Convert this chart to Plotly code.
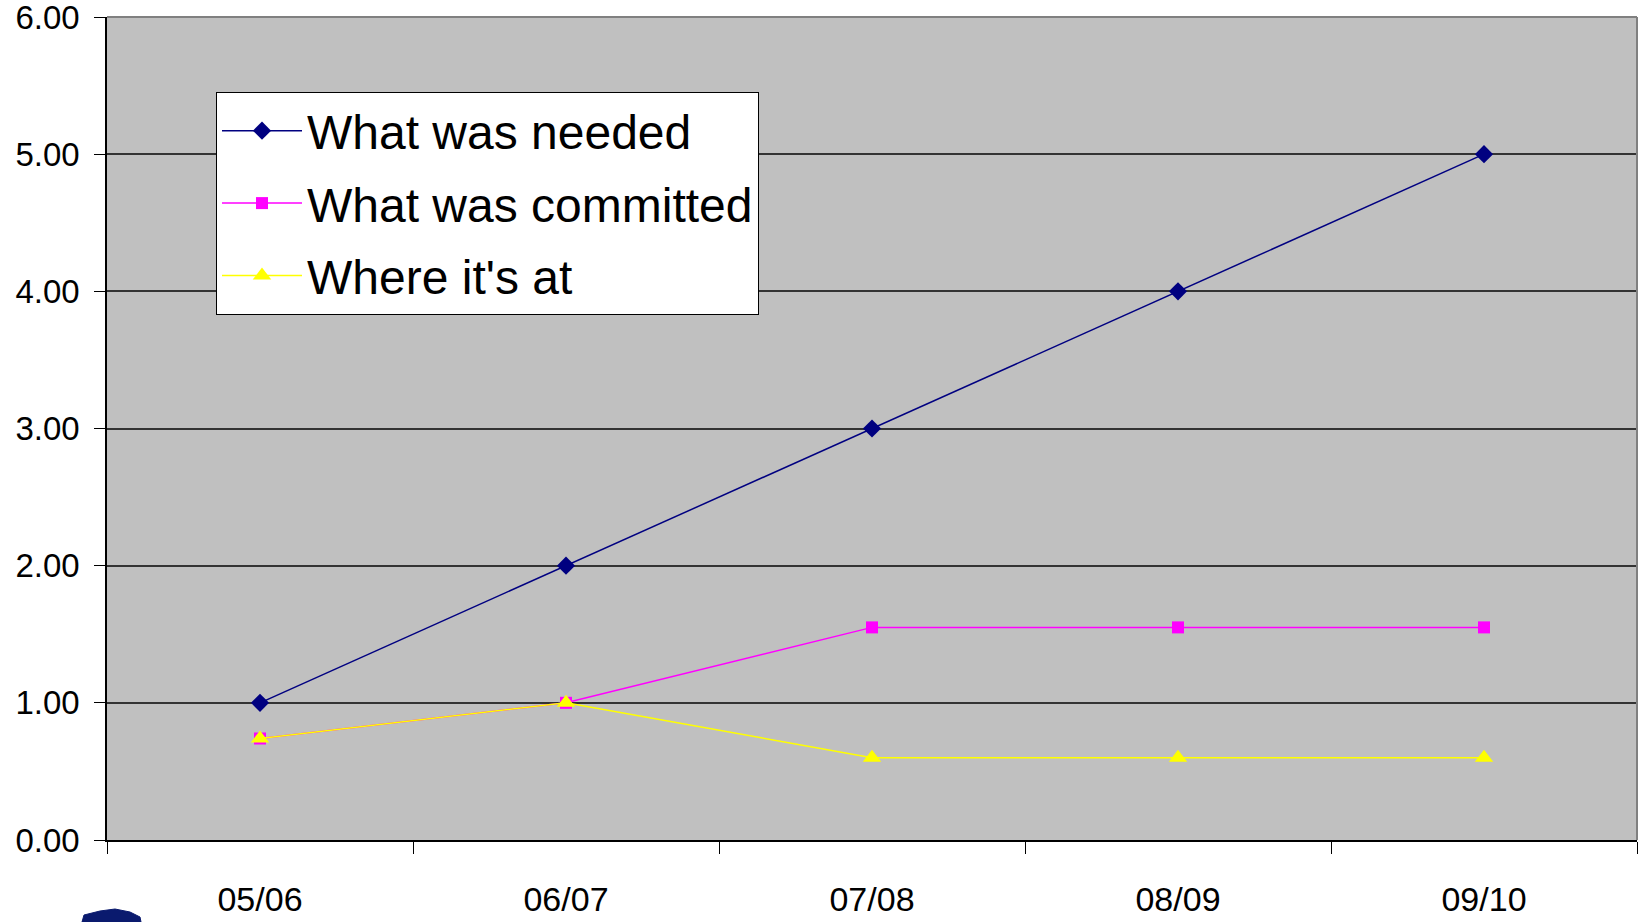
import plotly.graph_objects as go

categories = ["05/06", "06/07", "07/08", "08/09", "09/10"]
needed = [1.0, 2.0, 3.0, 4.0, 5.0]
committed = [0.74, 1.0, 1.55, 1.55, 1.55]
where_at = [0.74, 1.0, 0.6, 0.6, 0.6]
y_ticks = [0, 1, 2, 3, 4, 5, 6]

FONT = "Liberation Sans, Arial, sans-serif"
W, H = 1643, 922
L, R, T, B = 107, 6, 17, 82
PW, PH = W - L - R, H - T - B

fig = go.Figure()
fig.add_trace(go.Scatter(
    x=categories, y=needed, name="What was needed", mode="lines+markers",
    legendgroup="a",
    line=dict(color="#000080", width=1.5),
    marker=dict(symbol="diamond", size=14, color="#000080")))
fig.add_trace(go.Scatter(
    x=categories, y=committed, name="What was committed", mode="lines+markers",
    legendgroup="b",
    line=dict(color="#FF00FF", width=1.5),
    marker=dict(symbol="square", size=12, color="#FF00FF")))
fig.add_trace(go.Scatter(
    x=categories, y=where_at, name="Where it's at", mode="lines+markers",
    legendgroup="c",
    line=dict(color="#FFFF00", width=1.5),
    marker=dict(symbol="triangle-up", size=16, color="#FFFF00")))

def px2paper(px, py):
    return (px - L) / PW, (H - B - py) / PH

# small logo partially visible at bottom-left
logo_pts = [(82, 922), (84, 915), (100, 911), (115, 909), (130, 912), (140, 917), (141, 922)]
path = "M " + " L ".join(f"{px2paper(a, b)[0]},{px2paper(a, b)[1]}" for a, b in logo_pts) + " Z"

fig.update_layout(
    width=W, height=H,
    margin=dict(l=L, r=R, t=T, b=B, pad=0, autoexpand=False),
    paper_bgcolor="white",
    plot_bgcolor="#C0C0C0",
    font=dict(family=FONT, color="black"),
    showlegend=True,
    legend=dict(
        x=(216 - L) / PW, y=(H - B - 92) / PH, xanchor="left", yanchor="top",
        bgcolor="white", bordercolor="black", borderwidth=1,
        font=dict(size=48, family=FONT, color="black"),
        itemwidth=80, tracegroupgap=7),
    xaxis=dict(
        type="category", categoryorder="array", categoryarray=categories,
        tickson="boundaries", ticks="outside", ticklen=12, tickcolor="black",
        tickwidth=1, showline=True, linecolor="black", linewidth=1.5,
        showgrid=False, zeroline=False, automargin=False,
        tickfont=dict(size=34, family=FONT), ticklabelstandoff=28,
        range=[-0.5, 4.5], fixedrange=True),
    yaxis=dict(
        range=[0, 6], tickvals=y_ticks, tickformat=".2f",
        ticks="outside", ticklen=11, tickcolor="black", tickwidth=1,
        showline=True, linecolor="black", linewidth=1.5,
        showgrid=True, gridcolor="#333333", gridwidth=1.5, zeroline=False,
        automargin=False, ticklabeloverflow="allow",
        tickfont=dict(size=33, family=FONT), ticklabelstandoff=8,
        fixedrange=True),
    shapes=[
        dict(type="line", xref="paper", yref="paper", x0=0, x1=1, y0=1, y1=1,
             line=dict(color="#808080", width=2)),
        dict(type="line", xref="paper", yref="paper", x0=1, x1=1, y0=0, y1=1,
             line=dict(color="#808080", width=2)),
        dict(type="path", xref="paper", yref="paper", path=path,
             fillcolor="#0A1A6E", line=dict(color="#0A1A6E", width=1), layer="above"),
    ],
)

fig.write_html("out.html", config={"displayModeBar": False},
               post_script="document.body.style.margin='0';document.body.style.overflow='hidden';")
